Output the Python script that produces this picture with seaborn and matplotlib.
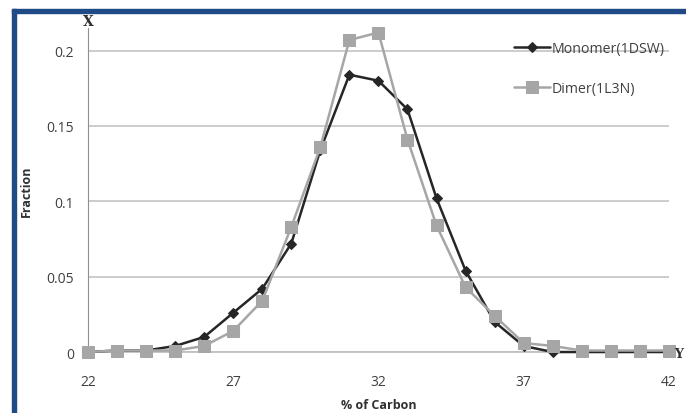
import pandas as pd
import seaborn as sns
import matplotlib.pyplot as plt
from matplotlib.patches import Rectangle
from matplotlib.ticker import FuncFormatter

sns.set_style("white")
plt.rcParams['font.family'] = ['Open Sans', 'DejaVu Sans']

# % of carbon
carbon = list(range(22, 43))
# fraction values
monomer = [0.000, 0.001, 0.001, 0.004, 0.010, 0.026, 0.042, 0.072, 0.134, 0.184, 0.180,
           0.161, 0.102, 0.054, 0.020, 0.004, 0.000, 0.000, 0.000, 0.000, 0.000]
dimer = [0.000, 0.001, 0.001, 0.001, 0.004, 0.014, 0.034, 0.083, 0.136, 0.207, 0.212,
         0.141, 0.084, 0.043, 0.024, 0.006, 0.004, 0.001, 0.001, 0.001, 0.001]
x_ticks = [22, 27, 32, 37, 42]
y_ticks = [0, 0.05, 0.1, 0.15, 0.2]

df = pd.DataFrame({"carbon": carbon, "Monomer(1DSW)": monomer, "Dimer(1L3N)": dimer})

fig = plt.figure(figsize=(6.86, 4.14), dpi=100)
ax = fig.add_axes([0.1283, 0.1473, 0.8467, 0.7827])

sns.lineplot(data=df, x="carbon", y="Monomer(1DSW)", ax=ax, color="#262626",
             linewidth=1.8, marker="D", markersize=5, markeredgecolor="#262626",
             label="Monomer(1DSW)", clip_on=False, zorder=3)
sns.lineplot(data=df, x="carbon", y="Dimer(1L3N)", ax=ax, color="#a6a6a6",
             linewidth=1.8, marker="s", markersize=8.5, markeredgecolor="#a6a6a6",
             label="Dimer(1L3N)", clip_on=False, zorder=4)

ax.set_xlim(22, 42)
ax.set_ylim(0, 0.215)
ax.set_xticks(x_ticks)
ax.set_yticks(y_ticks)
ax.yaxis.set_major_formatter(FuncFormatter(lambda v, p: "%g" % v))
ax.grid(axis="y", color="#c8c8c8", linewidth=1.3)
ax.grid(axis="x", visible=False)
for s in ["top", "right"]:
    ax.spines[s].set_visible(False)
ax.spines["left"].set_color("#909090")
ax.spines["bottom"].set_color("#c0c0c0")
ax.spines["bottom"].set_linewidth(1.3)
ax.tick_params(axis="both", which="major", direction="out", length=4, width=1,
               color="#909090", labelsize=10, labelcolor="#404040", pad=6)
ax.tick_params(axis="x", pad=12)

ax.set_xlabel("% of Carbon", fontsize=9, fontweight="bold", color="#303030", labelpad=6)
ax.set_ylabel("Fraction", fontsize=9, fontweight="bold", color="#303030", labelpad=10)

leg = ax.legend(loc="upper right", bbox_to_anchor=(1.015, 1.0), frameon=False,
                fontsize=10.2, labelspacing=1.75, handlelength=2.6, handletextpad=0.1)
for t in leg.get_texts():
    t.set_color("#404040")

# axis letters
fig.text(88 / 686, 1 - 22 / 414, "X", fontsize=10, fontweight="bold", family="DejaVu Serif",
         ha="center", va="center", color="#303030")
fig.text(674 / 686, 1 - 355 / 414, "Y", fontsize=9, fontweight="bold", family="DejaVu Serif",
         ha="left", va="center", color="#303030")

# blue frame along the top and left
fig.patches.append(Rectangle((12 / 686, 0), 4 / 686, 1 - 10 / 414, transform=fig.transFigure,
                             color="#1f4a85", zorder=10))
fig.patches.append(Rectangle((12 / 686, 1 - 14 / 414), 1, 4 / 414, transform=fig.transFigure,
                             color="#1f4a85", zorder=10))

fig.savefig("out.png", dpi=100)
